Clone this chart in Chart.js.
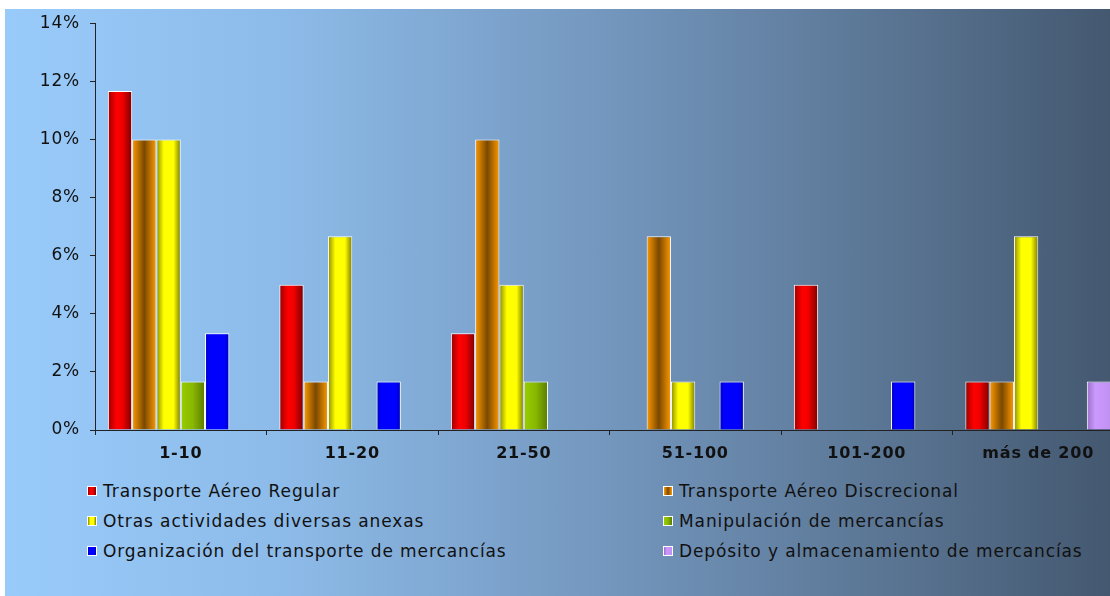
<!DOCTYPE html>
<html lang="es">
<head>
  <meta charset="UTF-8" />
  <title>Empresas por tramo de tamaño</title>
  <script src="https://cdn.jsdelivr.net/npm/chart.js"></script>
  <style>
    html, body {
      margin: 0;
      padding: 0;
      width: 1110px;
      height: 596px;
      overflow: hidden;
      background: #fff;
      font-family: "DejaVu Sans", Verdana, sans-serif;
    }
    /* gradient panel behind the chart */
    #panel {
      position: absolute;
      left: 5px;
      top: 9px;
      width: 1105px;
      height: 587px;
      overflow: hidden;
      background: linear-gradient(to right, #99cbfa 0%, #8dbbe9 25%, #7396bd 55%, #5a7593 80%, #445870 100%);
    }
    #chart { position: absolute; left: 0; top: -6px; }
    #legend {
      position: absolute;
      left: 82px;
      top: 467px;
      display: grid;
      grid-template-columns: 576px auto;
      grid-auto-rows: 30px;
      font-size: 17px;
      letter-spacing: 0.9px;
      color: #111;
    }
    #legend .item { display: flex; align-items: center; white-space: nowrap; }
    #legend .box {
      width: 8px;
      height: 8px;
      border: 1px solid #fff;
      margin-right: 6px;
      flex: none;
    }
  </style>
</head>
<body>
  <div id="panel">
    <canvas id="chart" width="1119" height="466"></canvas>
    <div id="legend"></div>
  </div>

  <script>
    const categories = ['1-10', '11-20', '21-50', '51-100', '101-200', 'más de 200'];
    const seriesNames = [
      'Transporte Aéreo Regular',
      'Transporte Aéreo Discrecional',
      'Otras actividades diversas anexas',
      'Manipulación de mercancías',
      'Organización del transporte de mercancías',
      'Depósito y almacenamiento de mercancías'
    ];
    // % of companies in each size band
    const regular      = [11.67, 5, 3.33, 0, 5, 1.67];
    const discrecional = [10, 1.67, 10, 6.67, 0, 1.67];
    const otras        = [10, 6.67, 5, 1.67, 0, 6.67];
    const manipulacion = [1.67, 0, 1.67, 0, 0, 0];
    const organizacion = [3.33, 1.67, 0, 1.67, 1.67, 0];
    const deposito     = [0, 0, 0, 0, 0, 1.67];
    const seriesValues = [regular, discrecional, otras, manipulacion, organizacion, deposito];
    const yTicks = [0, 2, 4, 6, 8, 10, 12, 14];

    // horizontal shading for each series (like the cylinder-ish excel bars)
    const shades = [
      [[0, '#9a0000'], [0.35, '#ff0000'], [0.6, '#f00000'], [1, '#7a0000']],
      [[0, '#ff9a00'], [0.5, '#7a4800'], [1, '#ff9a00']],
      [[0, '#8a8a00'], [0.3, '#ffff00'], [0.7, '#ffff00'], [1, '#7a7a00']],
      [[0, '#9acc00'], [0.5, '#88b800'], [1, '#5a7a00']],
      [[0, '#0000c0'], [0.2, '#0000ff'], [0.8, '#0000ff'], [1, '#0000b0']],
      [[0, '#9a70c8'], [0.35, '#cc99ff'], [1, '#c090f0']]
    ];
    const CAT_PCT = 0.85;
    const FONT = '"DejaVu Sans", Verdana, sans-serif';
    const AXIS = '#222';

    const barFill = (c) => {
      const stops = shades[c.datasetIndex];
      const chart = c.chart;
      const x = chart.scales.x;
      if (c.type !== 'data' || !x || !chart.chartArea) return stops[1][1];
      const groupW = x.width / categories.length * CAT_PCT;
      const barW = groupW / seriesValues.length;
      const left = x.getPixelForValue(c.dataIndex) - groupW / 2 + c.datasetIndex * barW;
      const g = chart.ctx.createLinearGradient(left, 0, left + barW, 0);
      stops.forEach(([p, col]) => g.addColorStop(p, col));
      return g;
    };

    const spacing = {
      id: 'spacing',
      beforeDraw(chart) { chart.ctx.letterSpacing = '0.8px'; }
    };

    new Chart(document.getElementById('chart'), {
      type: 'bar',
      data: {
        labels: categories,
        datasets: seriesValues.map((vals, i) => ({
          label: seriesNames[i],
          data: vals,
          backgroundColor: barFill,
          borderColor: '#ffffff',
          borderWidth: 1,
          categoryPercentage: CAT_PCT,
          barPercentage: 1
        }))
      },
      options: {
        responsive: false,
        animation: false,
        layout: { padding: { top: 7, left: 0, right: 0, bottom: 0 } },
        plugins: {
          legend: { display: false },
          tooltip: { enabled: false }
        },
        scales: {
          x: {
            grid: { offset: true, drawOnChartArea: false, tickLength: 5, color: AXIS },
            border: { color: AXIS },
            ticks: { color: '#111', padding: 9, font: { family: FONT, size: 16, weight: 'bold' } },
            afterFit: s => { s.height = 39; }
          },
          y: {
            min: 0,
            max: 14,
            afterBuildTicks: s => { s.ticks = yTicks.map(v => ({ value: v })); },
            grid: { drawOnChartArea: false, tickLength: 5, color: AXIS },
            border: { color: AXIS },
            ticks: {
              color: '#111',
              padding: 10,
              font: { family: FONT, size: 17 },
              callback: v => v + '%'
            },
            afterFit: s => { s.width = 90; }
          }
        }
      },
      plugins: [spacing]
    });

    // legend in two columns, built from the series arrays
    const legend = document.getElementById('legend');
    seriesNames.forEach((name, i) => {
      const item = document.createElement('div');
      item.className = 'item';
      const box = document.createElement('span');
      box.className = 'box';
      box.style.background = 'linear-gradient(to right, ' +
        shades[i].map(([p, col]) => col + ' ' + Math.round(p * 100) + '%').join(', ') + ')';
      const txt = document.createElement('span');
      txt.textContent = name;
      item.appendChild(box);
      item.appendChild(txt);
      legend.appendChild(item);
    });
  </script>
</body>
</html>
